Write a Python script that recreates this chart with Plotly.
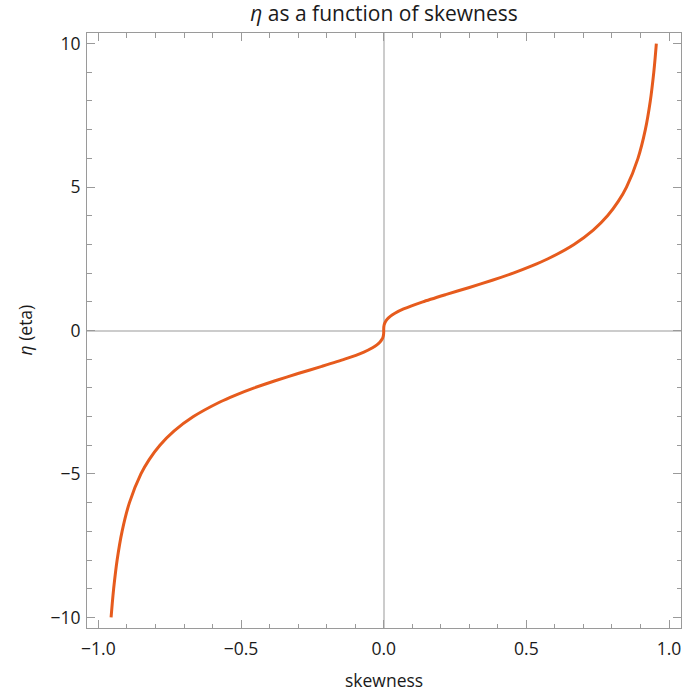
import plotly.graph_objects as go

# Values (skewness, eta)
skewness = [-0.9556, -0.9514, -0.9466, -0.9344, -0.9170, -0.8912, -0.8510, -0.8221,
            -0.7844, -0.7344, -0.6670, -0.5758, -0.5190, -0.4538, -0.3805, -0.3003,
            -0.2169, -0.1370, -0.0696, -0.0392, -0.0239, -0.0128, -0.0056, -0.0033,
            -0.0017, -0.0007, -0.0002, -0.00003, 0.0,
            0.00003, 0.0002, 0.0007, 0.0017, 0.0033, 0.0056, 0.0128, 0.0239,
            0.0392, 0.0696, 0.1370, 0.2169, 0.3003, 0.3805, 0.4538, 0.5190,
            0.5758, 0.6670, 0.7344, 0.7844, 0.8221, 0.8510, 0.8912, 0.9170,
            0.9344, 0.9466, 0.9514, 0.9556]
eta = [-10.0, -9.5, -9.0, -8.0, -7.0, -6.0, -5.0, -4.5,
       -4.0, -3.5, -3.0, -2.5, -2.25, -2.0, -1.75, -1.5,
       -1.25, -1.0, -0.75, -0.6, -0.5, -0.4, -0.3, -0.25,
       -0.2, -0.15, -0.1, -0.05, 0.0,
       0.05, 0.1, 0.15, 0.2, 0.25, 0.3, 0.4, 0.5,
       0.6, 0.75, 1.0, 1.25, 1.5, 1.75, 2.0, 2.25,
       2.5, 3.0, 3.5, 4.0, 4.5, 5.0, 6.0, 7.0,
       8.0, 9.0, 9.5, 10.0]

x_tickvals = [-1.0, -0.5, 0.0, 0.5, 1.0]
x_ticktext = ["\u22121.0", "\u22120.5", "0.0", "0.5", "1.0"]
y_tickvals = [-10, -5, 0, 5, 10]
y_ticktext = ["\u221210", "\u22125", "0", "5", "10"]

FONT = "Open Sans"
TXT = "#1a1a1a"
frame_col = "#9a9a9a"

W, H = 683, 689
ML, MR, MT, MB = 87, 2, 33, 61
PW, PH = W - ML - MR, H - MT - MB

fig = go.Figure()
fig.add_trace(go.Scatter(
    x=skewness, y=eta, mode="lines",
    line=dict(color="#E65B1D", width=3, shape="spline", smoothing=0.6),
    showlegend=False, hoverinfo="skip",
))

axis_common = dict(
    showline=True, linecolor=frame_col, linewidth=1, mirror="ticks",
    ticks="inside", ticklen=8, tickwidth=1, tickcolor=frame_col,
    showgrid=False, zeroline=True, zerolinecolor="#cccccc", zerolinewidth=1.5,
    tickfont=dict(family=FONT, size=17.5, color=TXT),
    automargin=False,
)

fig.update_layout(
    width=W, height=H,
    margin=dict(l=ML, r=MR, t=MT, b=MB),
    paper_bgcolor="white", plot_bgcolor="white",
    title=dict(text="<i>η</i> as a function of skewness",
               font=dict(family=FONT, size=21, color=TXT),
               x=(ML + PW / 2) / W, xanchor="center", xref="container",
               y=1 - 14 / H, yanchor="middle", yref="container"),
    xaxis=dict(range=[-1.04, 1.042], tickvals=x_tickvals, ticktext=x_ticktext,
               minor=dict(dtick=0.1, tick0=0, ticks="inside", ticklen=4.5,
                          tickcolor=frame_col, showgrid=False),
               ticklabelstandoff=5,
               **axis_common),
    yaxis=dict(range=[-10.37, 10.37], tickvals=y_tickvals, ticktext=y_ticktext,
               minor=dict(dtick=1, tick0=0, ticks="inside", ticklen=4.5,
                          tickcolor=frame_col, showgrid=False),
               ticklabelstandoff=2,
               **axis_common),
    annotations=[
        dict(text="skewness", xref="paper", yref="paper",
             x=0.5, y=(H - 680 - MB) / PH, xanchor="center", yanchor="middle",
             showarrow=False, font=dict(family=FONT, size=17.5, color=TXT)),
        dict(text="<i>η</i> (eta)", xref="paper", yref="paper",
             x=(24 - ML) / PW, y=0.5, xanchor="center", yanchor="middle",
             textangle=-90, showarrow=False,
             font=dict(family=FONT, size=17.5, color=TXT)),
    ],
)

# Remove the page's default body margin so the figure sits at the window's corner.
fig.write_html("out.html",
               config={"displayModeBar": False},
               post_script="document.body.style.margin='0';document.body.style.overflow='hidden';")
